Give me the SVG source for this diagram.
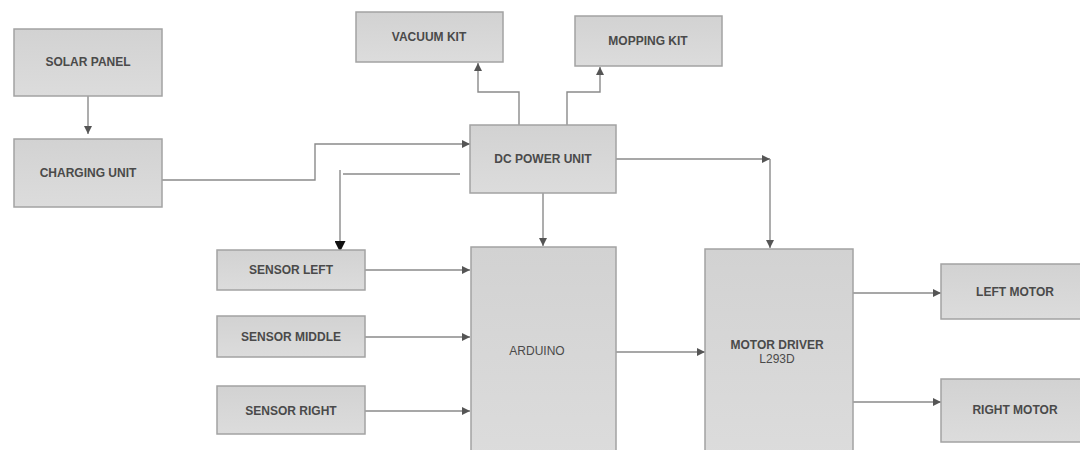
<svg xmlns="http://www.w3.org/2000/svg" width="1080" height="450" viewBox="0 0 1080 450">
<defs>
<linearGradient id="g" x1="0" y1="0" x2="0" y2="1"><stop offset="0" stop-color="#d2d2d2"/><stop offset="1" stop-color="#dcdcdc"/></linearGradient>
<marker id="a" viewBox="0 0 10 10" refX="10" refY="5" markerWidth="8" markerHeight="8" markerUnits="userSpaceOnUse" orient="auto"><path d="M0,0 L10,5 L0,10 Z" fill="#555"/></marker>
<marker id="b" viewBox="0 0 10 10" refX="10" refY="5" markerWidth="11" markerHeight="11" markerUnits="userSpaceOnUse" orient="auto"><path d="M0,0 L10,5 L0,10 Z" fill="#111"/></marker>
</defs>
<style>
.n rect{fill:url(#g);stroke:#a3a3a3;stroke-width:1.5}
.n text{font-family:"Liberation Sans",Arial,sans-serif;font-size:12px;font-weight:bold;fill:#4a4a4a;text-anchor:middle;dominant-baseline:central}
.c path{fill:none;stroke:#8a8a8a;stroke-width:1.4;marker-end:url(#a)}
</style>
<rect width="1080" height="450" fill="#fff"/>
<g class="c" id="connectors">
<path d="M88,96 V134"/>
<path d="M162,180 H315 V144 H470"/>
<path d="M519,125 V92 H478 V63"/>
<path d="M567,125 V92 H600 V67"/>
<path d="M616,159 H770"/>
<path d="M770,159 V248"/>
<path d="M543,193 V246"/>
<path d="M460,174 H343" style="marker-end:none"/>
<path d="M340,170 V252" style="marker-end:url(#b)"/>
<path d="M365,270 H470"/>
<path d="M365,337 H470"/>
<path d="M365,411 H470"/>
<path d="M616,352 H705"/>
<path d="M853,293 H941"/>
<path d="M853,402 H941"/>
</g>
<g class="n" id="solar"><rect x="14" y="29" width="148" height="67"/><text x="88" y="62">SOLAR PANEL</text></g>
<g class="n" id="charging"><rect x="14" y="139" width="148" height="68"/><text x="88" y="173">CHARGING UNIT</text></g>
<g class="n" id="vacuum"><rect x="356" y="12" width="147" height="50"/><text x="429" y="37">VACUUM KIT</text></g>
<g class="n" id="mopping"><rect x="575" y="16" width="147" height="50"/><text x="648" y="41">MOPPING KIT</text></g>
<g class="n" id="dcpower"><rect x="470" y="125" width="146" height="68"/><text x="543" y="159">DC POWER UNIT</text></g>
<g class="n" id="sleft"><rect x="217" y="250" width="148" height="40"/><text x="291" y="270">SENSOR LEFT</text></g>
<g class="n" id="smiddle"><rect x="217" y="316" width="148" height="41"/><text x="291" y="337">SENSOR MIDDLE</text></g>
<g class="n" id="sright"><rect x="217" y="386" width="148" height="48"/><text x="291" y="411">SENSOR RIGHT</text></g>
<g class="n" id="arduino"><rect x="471" y="247" width="145" height="215"/><text x="537" y="351" style="font-weight:normal">ARDUINO</text></g>
<g class="n" id="driver"><rect x="705" y="249" width="148" height="213"/><text x="777" y="345">MOTOR DRIVER</text><text x="777" y="359" style="font-weight:normal">L293D</text></g>
<g class="n" id="lmotor"><rect x="941" y="264" width="150" height="55"/><text x="1015" y="292">LEFT MOTOR</text></g>
<g class="n" id="rmotor"><rect x="941" y="379" width="150" height="63"/><text x="1015" y="410">RIGHT MOTOR</text></g>
</svg>
